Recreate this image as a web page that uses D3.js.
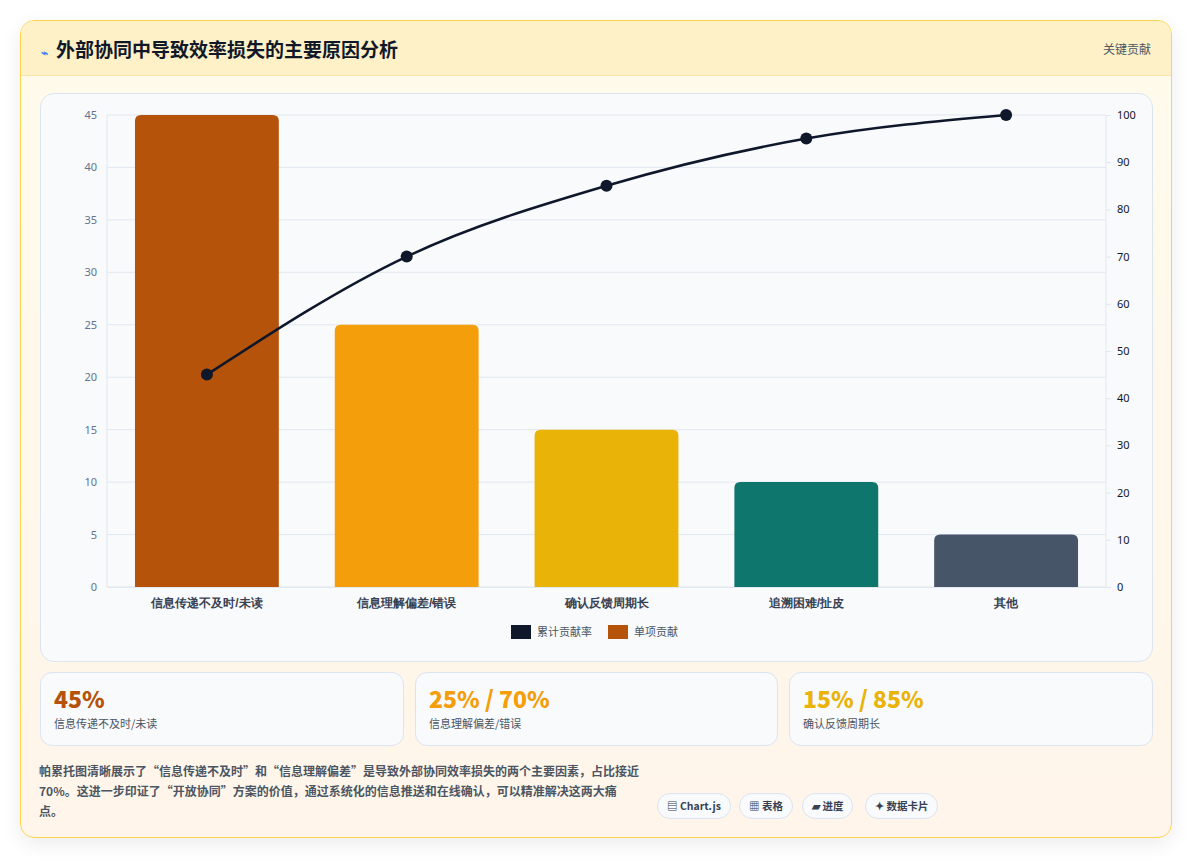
<!DOCTYPE html>
<html><head><meta charset="utf-8">
<script src="https://cdn.jsdelivr.net/npm/d3@7/dist/d3.min.js"></script>
<style>
*{box-sizing:border-box}
body{margin:0;width:1192px;height:860px;background:#fff;font-family:"Noto Sans CJK SC","Noto Sans",sans-serif;position:relative;overflow:hidden}
.card{position:absolute;left:20px;top:20px;width:1152px;height:818px;border:1px solid #fcd34d;border-radius:14px;background:linear-gradient(#fffbeb,#fff5ea);box-shadow:0 6px 20px rgba(0,0,0,0.08);overflow:hidden}
.hdr{height:55px;background:#fef0c7;border-bottom:1px solid #fde2a7;position:relative}
.hdr .t{position:absolute;left:20px;top:14px;font-size:19px;font-weight:700;color:#111827}
.hdr .t span{color:#3b82f6;font-size:12px;margin-right:8px}
.hdr .r{position:absolute;right:20px;top:19px;font-size:12px;color:#4b5563}
.panel{position:absolute;left:19px;top:72px;width:1113px;height:569px;background:#f8fafc;border:1px solid #dbe4f0;border-radius:14px}
.stat{position:absolute;top:651px;height:74px;background:#f8fafc;border:1px solid #dbe4f0;border-radius:12px;padding:10px 13px}
.stat .v{font-size:23px;font-weight:800;line-height:30px}
.stat .l{font-size:11px;color:#4b5563;margin-top:2px}
.para{position:absolute;left:18px;top:740px;width:600px;font-size:12px;line-height:20px;color:#4b5563;font-weight:700}
.badge{position:absolute;top:772px;height:26px;border:1px solid #dbe4f0;border-radius:13px;background:#f8fafc;font-size:10.5px;font-weight:700;color:#374151;line-height:24px;padding:0 9px}
</style></head><body>
<div class="card">
 <div class="hdr"><div class="t"><span>⌁</span>外部协同中导致效率损失的主要原因分析</div><div class="r">关键贡献</div></div>
 <div class="panel"></div>
 <div class="stat" style="left:19px;width:364px"><div class="v" style="color:#b45309">45%</div><div class="l">信息传递不及时/未读</div></div>
 <div class="stat" style="left:394px;width:363px"><div class="v" style="color:#f59e0b">25% / 70%</div><div class="l">信息理解偏差/错误</div></div>
 <div class="stat" style="left:768px;width:364px"><div class="v" style="color:#eab308">15% / 85%</div><div class="l">确认反馈周期长</div></div>
 <div class="para">帕累托图清晰展示了“信息传递不及时”和“信息理解偏差”是导致外部协同效率损失的两个主要因素，占比接近70%。这进一步印证了“开放协同”方案的价值，通过系统化的信息推送和在线确认，可以精准解决这两大痛点。</div>
 <div class="badge" style="left:636px">▤ Chart.js</div>
 <div class="badge" style="left:718px">▦ 表格</div>
 <div class="badge" style="left:781px">▰ 进度</div>
 <div class="badge" style="left:844px">✦ 数据卡片</div>
</div>
<svg id="c" width="1192" height="860" style="position:absolute;left:0;top:0"></svg>
<script>
const categories=["信息传递不及时/未读","信息理解偏差/错误","确认反馈周期长","追溯困难/扯皮","其他"];
const single=[45,25,15,10,5];
const cumulative=[45,70,85,95,100];
const barColors=["#b45309","#f59e0b","#eab308","#0f766e","#475569"];
const leftTicks=[0,5,10,15,20,25,30,35,40,45];
const rightTicks=[0,10,20,30,40,50,60,70,80,90,100];

const svg=d3.select("#c");
const L=107,R=1106,T=115,B=587;
const x=d3.scaleBand().domain(categories).range([L,R]).paddingInner(0.28).paddingOuter(0.14);
const yL=d3.scaleLinear().domain([0,45]).range([B,T]);
const yR=d3.scaleLinear().domain([0,100]).range([B,T]);
const g=svg.append("g");
g.selectAll(".gl").data(leftTicks).join("line").attr("x1",L).attr("x2",R)
 .attr("y1",d=>yL(d)).attr("y2",d=>yL(d)).attr("stroke","#e2e8f0");
g.append("line").attr("x1",L).attr("x2",L).attr("y1",T).attr("y2",B).attr("stroke","#e2e8f0");
g.append("line").attr("x1",R).attr("x2",R).attr("y1",T).attr("y2",B).attr("stroke","#e2e8f0");
const ax=g.append("g").attr("transform",`translate(${L},0)`).call(d3.axisLeft(yL).tickValues(leftTicks).tickSize(0).tickPadding(10));
ax.select(".domain").remove();
ax.selectAll("text").attr("fill","#64748b").attr("font-size",11).attr("font-family","Noto Sans");
const ar=g.append("g").attr("transform",`translate(${R},0)`).call(d3.axisRight(yR).tickValues(rightTicks).tickSize(5).tickPadding(6));
ar.select(".domain").remove();
ar.selectAll("line").attr("stroke","#e2e8f0");
ar.selectAll("text").attr("fill","#111827").attr("font-size",11).attr("font-family","Noto Sans");
const xa=g.append("g").attr("transform",`translate(0,${B})`).call(d3.axisBottom(x).tickSize(0).tickPadding(11));
xa.select(".domain").attr("stroke","#e2e8f0");
xa.selectAll("text").attr("fill","#374151").attr("font-size",12).attr("font-weight",700);
g.selectAll(".bar").data(single).join("path")
 .attr("fill",(d,i)=>barColors[i])
 .attr("d",(d,i)=>{const x0=x(categories[i]),w=x.bandwidth(),y0=yL(d),r=6;
   return `M${x0},${B}V${y0+r}Q${x0},${y0} ${x0+r},${y0}H${x0+w-r}Q${x0+w},${y0} ${x0+w},${y0+r}V${B}Z`;});
const cx=(d,i)=>x(categories[i])+x.bandwidth()/2;
g.append("path").datum(cumulative).attr("fill","none").attr("stroke","#0f172a").attr("stroke-width",2.5)
 .attr("d",d3.line().x(cx).y(d=>yR(d)).curve(d3.curveMonotoneX));
g.selectAll(".pt").data(cumulative).join("circle").attr("cx",cx).attr("cy",d=>yR(d)).attr("r",6).attr("fill","#0f172a");
const lg=g.append("g").attr("transform","translate(511,625)");
[["累计贡献率","#0f172a"],["单项贡献","#b45309"]].forEach((e,i)=>{
 const o=i*97;
 lg.append("rect").attr("x",o).attr("y",0).attr("width",20).attr("height",14).attr("fill",e[1]);
 lg.append("text").attr("x",o+26).attr("y",11).text(e[0]).attr("font-size",11).attr("fill","#4b5563");
});
</script>
</body></html>
